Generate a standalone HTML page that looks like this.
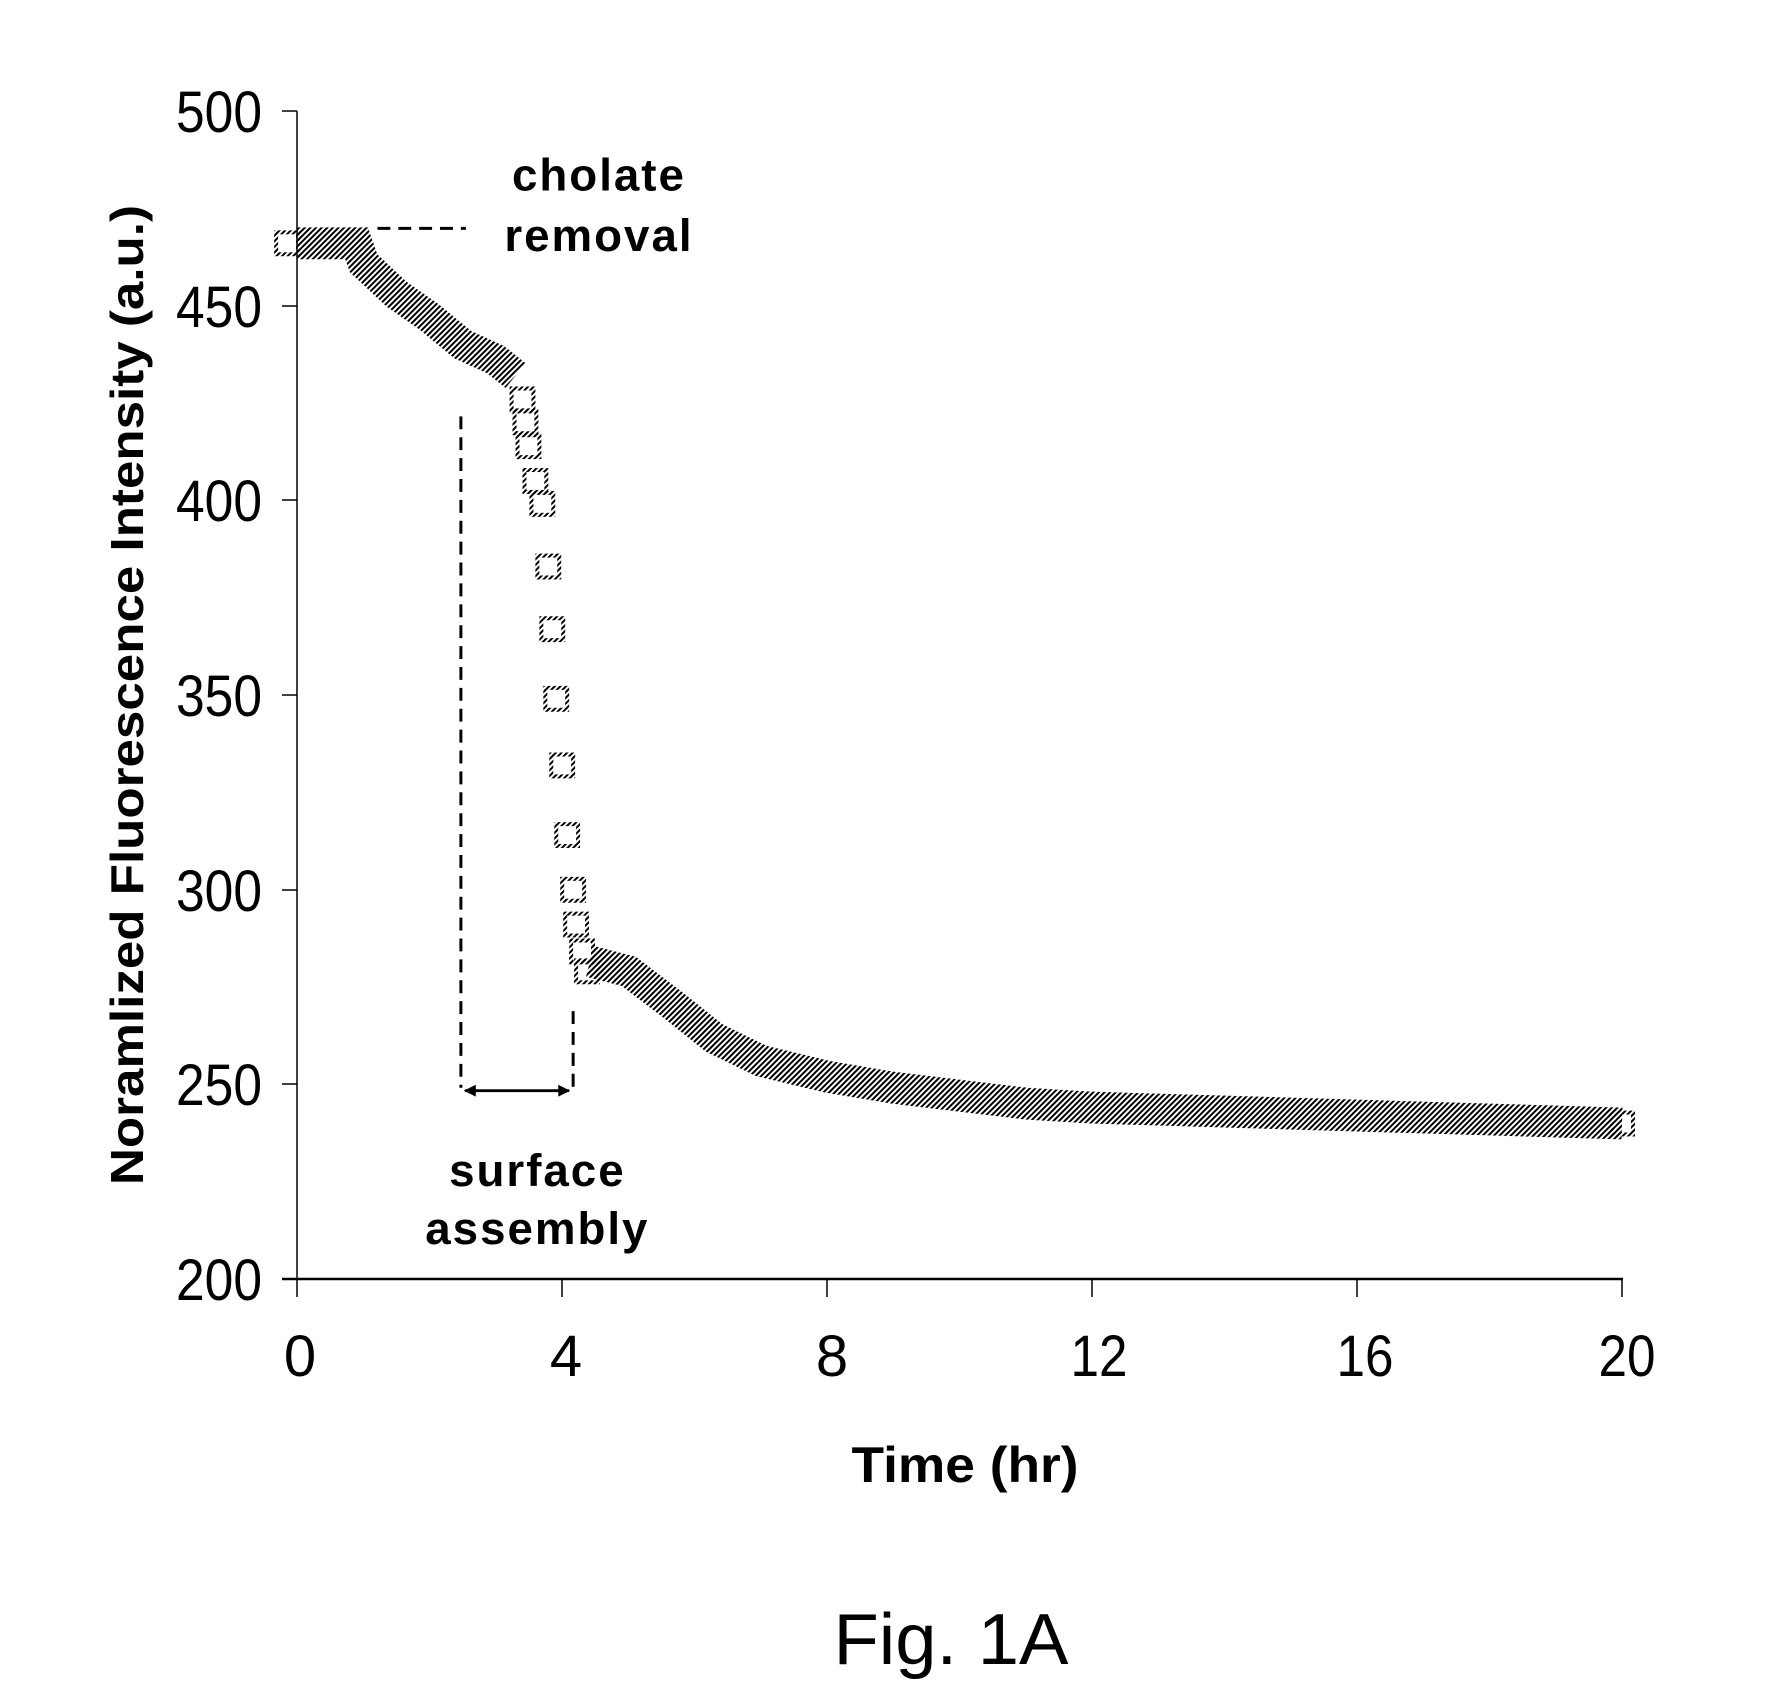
<!DOCTYPE html>
<html><head><meta charset="utf-8"><style>html,body{margin:0;padding:0;background:#fff}svg{display:block}</style></head>
<body>
<svg width="1770" height="1691" viewBox="0 0 1770 1691" xmlns="http://www.w3.org/2000/svg" font-family="Liberation Sans, Arial, sans-serif">
<defs>
<pattern id="h" patternUnits="userSpaceOnUse" width="4" height="4" patternTransform="rotate(45)">
<rect x="0" y="0" width="2" height="4" fill="#000"/>
</pattern>
<marker id="ah" markerWidth="12" markerHeight="12" refX="11" refY="6" orient="auto-start-reverse" markerUnits="userSpaceOnUse">
<path d="M0,0 L12,6 L0,12 z" fill="#000"/>
</marker>
</defs>
<rect width="1770" height="1691" fill="#fff"/>
<g transform="translate(297,111) scale(0.9933,0.9946) translate(-297,-111)">
<!-- data band -->
<g fill="none" stroke="url(#h)" stroke-linejoin="miter">
<polyline stroke-width="32" points="297,244 357,244 364,264 397,295 430,318 464,346 497,361 517,377"/>
<polyline stroke-width="32" points="592,966 631,976 677,1011 717,1043 764,1066 831,1082 897,1093 964,1101 1031,1109 1097,1113 1231,1117 1364,1121 1498,1125 1631,1129"/>
</g>
<g fill="none" stroke="url(#h)" stroke-width="4">
<rect x="276" y="233" width="22" height="22"/>
<rect x="1620" y="1118" width="22" height="22"/>
<rect x="513" y="390" width="22" height="22"/>
<rect x="516" y="413" width="22" height="22"/>
<rect x="519" y="437" width="22" height="22"/>
<rect x="526" y="472" width="22" height="22"/>
<rect x="533" y="495" width="22" height="22"/>
<rect x="539" y="558" width="22" height="22"/>
<rect x="543" y="621" width="22" height="22"/>
<rect x="547" y="691" width="22" height="22"/>
<rect x="553" y="758" width="22" height="22"/>
<rect x="558" y="828" width="22" height="22"/>
<rect x="564" y="883" width="22" height="22"/>
<rect x="567" y="918" width="22" height="22"/>
<rect x="573" y="945" width="22" height="22"/>
<rect x="578" y="965" width="22" height="22"/>
</g>
<!-- annotations -->
<line x1="378" y1="229" x2="467" y2="229" stroke="#000" stroke-width="3" stroke-dasharray="13,8"/>
<line x1="462" y1="418" x2="462" y2="1093" stroke="#000" stroke-width="3" stroke-dasharray="13,8"/>
<line x1="575" y1="1016" x2="575" y2="1093" stroke="#000" stroke-width="3" stroke-dasharray="13,8"/>
<line x1="466" y1="1096" x2="571" y2="1096" stroke="#000" stroke-width="3" marker-start="url(#ah)" marker-end="url(#ah)"/>
<g font-size="46" font-weight="bold" text-anchor="middle" letter-spacing="2">
<text x="601" y="191">cholate</text>
<text x="601" y="252">removal</text>
<text x="539" y="1192">surface</text>
<text x="539" y="1250">assembly</text>
</g>
</g>
<!-- axes -->
<line x1="297" y1="111" x2="297" y2="1279" stroke="#000" stroke-width="1.5"/>
<line x1="282" y1="1279" x2="1623" y2="1279" stroke="#000" stroke-width="2.5"/>
<g stroke="#000" stroke-width="1.5">
<line x1="282" y1="111" x2="297" y2="111"/><line x1="282" y1="306" x2="297" y2="306"/>
<line x1="282" y1="500" x2="297" y2="500"/><line x1="282" y1="695" x2="297" y2="695"/>
<line x1="282" y1="890" x2="297" y2="890"/><line x1="282" y1="1084" x2="297" y2="1084"/>
<line x1="297" y1="1279" x2="297" y2="1297"/><line x1="562" y1="1279" x2="562" y2="1297"/>
<line x1="827" y1="1279" x2="827" y2="1297"/><line x1="1092" y1="1279" x2="1092" y2="1297"/>
<line x1="1357" y1="1279" x2="1357" y2="1297"/><line x1="1622" y1="1279" x2="1622" y2="1297"/>
</g>
<g font-size="58" text-anchor="end">
<text x="262" y="132" textLength="86" lengthAdjust="spacingAndGlyphs">500</text>
<text x="262" y="327" textLength="86" lengthAdjust="spacingAndGlyphs">450</text>
<text x="262" y="521" textLength="86" lengthAdjust="spacingAndGlyphs">400</text>
<text x="262" y="716" textLength="86" lengthAdjust="spacingAndGlyphs">350</text>
<text x="262" y="911" textLength="86" lengthAdjust="spacingAndGlyphs">300</text>
<text x="262" y="1105" textLength="86" lengthAdjust="spacingAndGlyphs">250</text>
<text x="262" y="1300" textLength="86" lengthAdjust="spacingAndGlyphs">200</text>
</g>
<g font-size="58" text-anchor="middle">
<text x="300" y="1376">0</text>
<text x="566" y="1376">4</text>
<text x="832" y="1376">8</text>
<text x="1099" y="1376" textLength="57" lengthAdjust="spacingAndGlyphs">12</text>
<text x="1365" y="1376" textLength="57" lengthAdjust="spacingAndGlyphs">16</text>
<text x="1627" y="1376" textLength="57" lengthAdjust="spacingAndGlyphs">20</text>
</g>
<text x="965" y="1482" font-size="50" font-weight="bold" text-anchor="middle" textLength="227" lengthAdjust="spacingAndGlyphs">Time (hr)</text>
<text transform="translate(143,695) rotate(-90)" font-size="46" font-weight="bold" text-anchor="middle" textLength="980" lengthAdjust="spacingAndGlyphs">Noramlized Fluorescence Intensity (a.u.)</text>
<text x="951" y="1664" font-size="72" text-anchor="middle" textLength="235" lengthAdjust="spacingAndGlyphs">Fig. 1A</text>
</svg>
</body></html>
